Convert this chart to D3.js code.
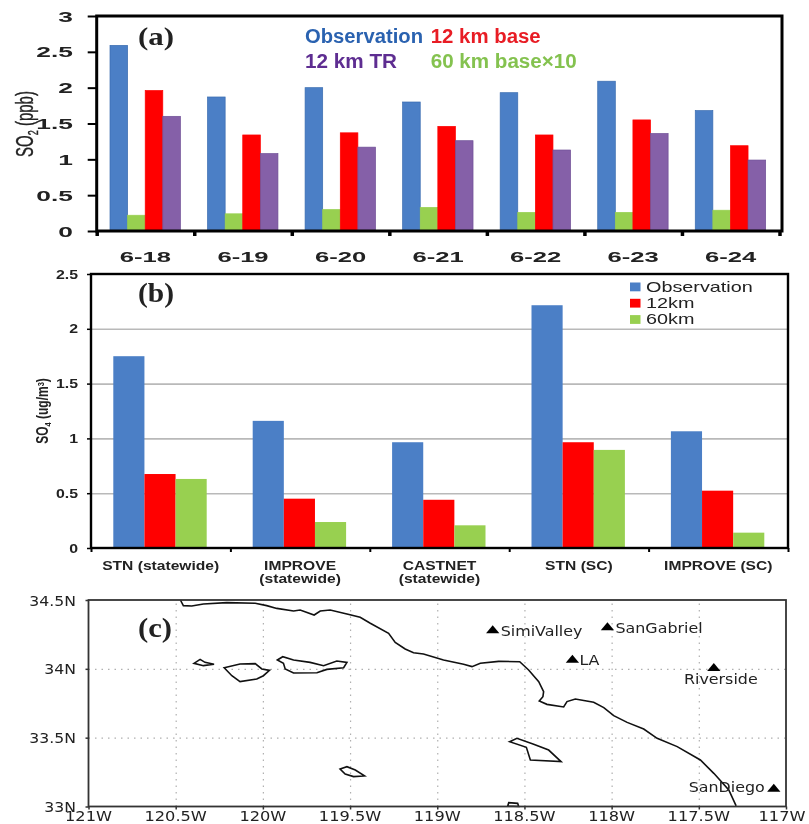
<!DOCTYPE html>
<html><head><meta charset="utf-8">
<script src="https://cdn.jsdelivr.net/npm/d3@7/dist/d3.min.js"></script>
<style>
html,body{margin:0;padding:0;background:#fff;overflow:hidden}
svg{display:block;filter:blur(0.5px)}
</style></head><body>
<svg id="c" width="809" height="824"></svg>
<script>
// ---------- panel (a) ----------
const daysA = ["6-18","6-19","6-20","6-21","6-22","6-23","6-24"];
const seriesA = ["Observation","60 km base×10","12 km base","12 km TR"];
const obsA = [2.59,1.87,2.0,1.80,1.93,2.09,1.68];
const green60A = [0.22,0.24,0.30,0.33,0.26,0.26,0.29];
const red12A = [1.96,1.34,1.37,1.46,1.34,1.55,1.19];
const purpleTRA = [1.60,1.08,1.17,1.26,1.13,1.36,0.99];
const ticksA = [0,0.5,1,1.5,2,2.5,3];
// ---------- panel (b) ----------
const netsB = [["STN (statewide)"],["IMPROVE","(statewide)"],["CASTNET","(statewide)"],["STN (SC)"],["IMPROVE (SC)"]];
const seriesB = ["Observation","12km","60km"];
const obsB = [1.75,1.16,0.965,2.215,1.065];
const km12B = [0.675,0.45,0.44,0.965,0.523];
const km60B = [0.63,0.237,0.207,0.895,0.14];
const ticksB = [0,0.5,1,1.5,2,2.5];
// ---------- panel (c) ----------
const lonTicks = [-121,-120.5,-120,-119.5,-119,-118.5,-118,-117.5,-117];
const latTicks = [33,33.5,34,34.5];
const coast = [[-120.473,34.5],[-120.456,34.459],[-120.408,34.456],[-120.341,34.471],[-120.207,34.481],[-120.044,34.476],[-119.978,34.459],[-119.92,34.439],[-119.824,34.42],[-119.786,34.427],[-119.706,34.391],[-119.671,34.42],[-119.614,34.427],[-119.518,34.398],[-119.442,34.374],[-119.384,34.331],[-119.279,34.258],[-119.241,34.192],[-119.184,34.144],[-119.136,34.117],[-119.079,34.108],[-118.964,34.064],[-118.849,34.033],[-118.801,34.016],[-118.753,34.04],[-118.648,34.054],[-118.527,34.052],[-118.476,33.992],[-118.418,33.907],[-118.39,33.834],[-118.394,33.798],[-118.415,33.766],[-118.371,33.742],[-118.275,33.723],[-118.256,33.762],[-118.208,33.781],[-118.103,33.757],[-118.045,33.718],[-117.988,33.66],[-117.911,33.611],[-117.816,33.563],[-117.739,33.495],[-117.624,33.435],[-117.491,33.338],[-117.414,33.241],[-117.328,33.12],[-117.286,33.004]];
const sanMiguel = [[-120.395,34.04],[-120.36,34.069],[-120.332,34.047],[-120.28,34.033],[-120.341,34.023]];
const santaRosa = [[-120.222,34.008],[-120.131,34.035],[-120.044,34.038],[-120.006,33.999],[-119.962,33.989],[-119.997,33.95],[-120.035,33.926],[-120.131,33.907],[-120.178,33.95]];
const santaCruz = [[-119.917,34.064],[-119.886,34.088],[-119.824,34.064],[-119.729,34.047],[-119.652,34.023],[-119.576,34.057],[-119.518,34.047],[-119.537,34.008],[-119.633,33.996],[-119.69,33.972],[-119.824,33.97],[-119.872,33.999],[-119.882,34.04]];
const santaBarbara = [[-119.557,33.272],[-119.518,33.289],[-119.47,33.265],[-119.417,33.222],[-119.48,33.217],[-119.528,33.236]];
const catalina = [[-118.585,33.471],[-118.543,33.495],[-118.447,33.452],[-118.361,33.41],[-118.29,33.326],[-118.466,33.338],[-118.489,33.43]];
const sanClemente = [[-118.596,33.004],[-118.59,33.028],[-118.539,33.023],[-118.533,33.0]];
const islands = [sanMiguel,santaRosa,santaCruz,santaBarbara,catalina,sanClemente];
const siteNames = ["SimiValley","SanGabriel","LA","Riverside","SanDiego"];
const siteLon = [-118.682,-118.024,-118.225,-117.414,-117.07];
const siteLat = [34.277,34.299,34.064,34.004,33.127];

const C = {blue:"#4b7fc6",red:"#ff0000",green:"#98d050",purple:"#8560a8"};
const svg = d3.select("#c");
const sans = "'Liberation Sans',Arial,sans-serif";
const serif = "'Liberation Serif','Times New Roman',serif";
const gr = "'DejaVu Sans',sans-serif";

function widen(sel,f){ sel.each(function(){ const t=d3.select(this);
  t.attr("textLength",this.getComputedTextLength()*f).attr("lengthAdjust","spacingAndGlyphs"); }); return sel; }
function txt(x,y,s,o){ const e=svg.append("text").attr("x",x).attr("y",y).text(s)
  .attr("font-family",o.ff||sans).attr("font-size",o.fs).attr("font-weight",o.fw||"normal")
  .attr("fill",o.fill||"#111").attr("text-anchor",o.anchor||"start");
  if(o.w) e.call(widen,o.w);
  if(o.len) e.attr("textLength",o.len).attr("lengthAdjust","spacingAndGlyphs");
  return e; }

// ===== (a) =====
{
  const L=96.7,R=779.5,FR=782,T=16,B=231;
  const y=d3.scaleLinear().domain([0,3]).range([B,T]);
  const x=d3.scaleBand().domain(daysA).range([L,R]);
  const sub=d3.scaleBand().domain(seriesA).range([13.3,83.7]);
  const cols=[C.blue,C.green,C.red,C.purple];
  const edges=["#3a6cb0","#98d050","#ff0000","#6f4f96"];
  [obsA,green60A,red12A,purpleTRA].forEach((vals,si)=>{
    svg.append("g").selectAll("rect").data(vals).join("rect")
      .attr("x",(d,i)=>x(daysA[i])+sub(seriesA[si]))
      .attr("width",sub.bandwidth()).attr("y",d=>y(d)).attr("height",d=>B-y(d))
      .attr("fill",cols[si]).attr("stroke",edges[si]).attr("stroke-width",0.7);
  });
  svg.append("rect").attr("x",L).attr("y",T).attr("width",FR-L).attr("height",B-T).attr("fill","none").attr("stroke","#000").attr("stroke-width",3);
  const ya=svg.append("g").attr("transform",`translate(${L},0)`).call(d3.axisLeft(y).tickValues(ticksA).tickSize(9).tickFormat(""));
  ya.select(".domain").remove(); ya.selectAll("line").attr("stroke","#000").attr("stroke-width",2);
  const edge=d3.scaleLinear().domain([0,7]).range([L,R]);
  const xa=svg.append("g").attr("transform",`translate(0,${B})`).call(d3.axisBottom(edge).tickValues(d3.range(0,8)).tickSize(5).tickFormat(""));
  xa.select(".domain").remove(); xa.selectAll("line").attr("stroke","#000").attr("stroke-width",3.5);
  ticksA.forEach(t=>txt(73,y(t)+5.5,String(t),{fs:15.5,fw:"bold",anchor:"end",w:1.7,fill:"#222"}));
  daysA.forEach(d=>txt(x(d)+x.bandwidth()/2,262,d,{fs:15.5,fw:"bold",anchor:"middle",w:1.65,fill:"#222"}));
  const t=svg.append("text").attr("transform",`translate(33,124) scale(1.6,1) rotate(-90)`).attr("text-anchor","middle")
    .attr("font-family",sans).attr("font-size",15).attr("fill","#222").attr("stroke","#222").attr("stroke-width",0.25);
  t.append("tspan").text("SO");
  t.append("tspan").text("2").attr("font-size",9).attr("dy",3);
  t.append("tspan").text(" (ppb)").attr("dy",-3);
  txt(138,45,"(a)",{ff:serif,fs:26,fw:"bold",len:36,fill:"#222"});
  txt(305,43,seriesA[0],{fs:20,fw:"bold",fill:"#2a62b0",len:118});
  txt(430.7,43,seriesA[2],{fs:20,fw:"bold",fill:"#e81c24",len:110});
  txt(305,68,seriesA[3],{fs:20,fw:"bold",fill:"#5e2d91",len:92});
  txt(430.7,68,seriesA[1],{fs:20,fw:"bold",fill:"#84c24f",len:146});
}

// ===== (b) =====
{
  const L=91,R=788,T=274,B=548;
  const y=d3.scaleLinear().domain([0,2.5]).range([B,T]);
  const x=d3.scaleBand().domain(netsB.map(d=>d[0])).range([L,R]);
  const sub=d3.scaleBand().domain(seriesB).range([22.3,115.7]);
  const g=svg.append("g").attr("transform",`translate(${L},0)`).call(d3.axisLeft(y).tickValues(ticksB.slice(1,5)).tickSize(-(R-L)).tickFormat(""));
  g.select(".domain").remove(); g.selectAll("line").attr("stroke","#b9b9b9").attr("stroke-width",1.6);
  const cols=[C.blue,C.red,C.green];
  [obsB,km12B,km60B].forEach((vals,si)=>{
    svg.append("g").selectAll("rect").data(vals).join("rect")
      .attr("x",(d,i)=>x(netsB[i][0])+sub(seriesB[si]))
      .attr("width",sub.bandwidth()).attr("y",d=>y(d)).attr("height",d=>B-y(d)).attr("fill",cols[si]);
  });
  svg.append("rect").attr("x",L).attr("y",T).attr("width",R-L).attr("height",B-T).attr("fill","none").attr("stroke","#000").attr("stroke-width",2.4);
  const yt=svg.append("g").attr("transform",`translate(${L},0)`).call(d3.axisLeft(y).tickValues(ticksB).tickSize(4).tickFormat(""));
  yt.select(".domain").remove(); yt.selectAll("line").attr("stroke","#000").attr("stroke-width",1.5);
  const edge=d3.scaleLinear().domain([0,5]).range([L,R]);
  const xa=svg.append("g").attr("transform",`translate(0,${B})`).call(d3.axisBottom(edge).tickValues(d3.range(0,6)).tickSize(4).tickFormat(""));
  xa.select(".domain").remove(); xa.selectAll("line").attr("stroke","#000").attr("stroke-width",2);
  ticksB.forEach(t=>txt(78,y(t)+4.5,String(t),{fs:12.5,fw:"bold",anchor:"end",w:1.27,fill:"#222"}));
  netsB.forEach(n=>n.forEach((line,i)=>txt(x(n[0])+x.bandwidth()/2,570+i*13.2,line,{fs:12,fw:"bold",anchor:"middle",w:1.3,fill:"#222"})));
  const t=svg.append("text").attr("transform",`translate(48,411) scale(1.3,1) rotate(-90)`).attr("text-anchor","middle")
    .attr("font-family",sans).attr("font-weight","bold").attr("font-size",12).attr("fill","#222");
  t.append("tspan").text("SO");
  t.append("tspan").text("4").attr("font-size",7.5).attr("dy",2);
  t.append("tspan").text(" (ug/m").attr("dy",-2);
  t.append("tspan").text("3").attr("font-size",7.5).attr("dy",-3);
  t.append("tspan").text(")").attr("dy",3);
  txt(138,302,"(b)",{ff:serif,fs:27,fw:"bold",len:36,fill:"#222"});
  seriesB.forEach((s,i)=>{
    svg.append("rect").attr("x",630).attr("y",282.5+i*16.3).attr("width",10.5).attr("height",8.8).attr("fill",cols[i]);
    txt(646,292.3+i*16,s,{fs:15,w:1.32,fill:"#222"});
  });
}

// ===== (c) =====
{
  const L=88.5,R=786,T=600,B=806.5;
  const lon=d3.scaleLinear().domain([-121,-117]).range([L,R]);
  const lat=d3.scaleLinear().domain([33,34.5]).range([B,T]);
  const gx=svg.append("g").attr("transform",`translate(0,${B})`).call(d3.axisBottom(lon).tickValues(lonTicks.slice(1,-1)).tickSize(-(B-T)).tickFormat(""));
  gx.select(".domain").remove(); gx.selectAll("line").attr("stroke","#b0b0b0").attr("stroke-width",1.2).attr("stroke-dasharray","1.5 5");
  const gy=svg.append("g").attr("transform",`translate(${L},0)`).call(d3.axisLeft(lat).tickValues(latTicks.slice(1,-1)).tickSize(-(R-L)).tickFormat(""));
  gy.select(".domain").remove(); gy.selectAll("line").attr("stroke","#b0b0b0").attr("stroke-width",1.2).attr("stroke-dasharray","1.5 5");
  const line=d3.line().x(d=>lon(d[0])).y(d=>lat(d[1])).curve(d3.curveLinear);
  svg.append("path").attr("d",line(coast)).attr("fill","none").attr("stroke","#111").attr("stroke-width",1.6);
  islands.forEach(p=>svg.append("path").attr("d",line(p)+"Z").attr("fill","none").attr("stroke","#111").attr("stroke-width",1.6));
  svg.append("rect").attr("x",L).attr("y",T).attr("width",R-L).attr("height",B-T).attr("fill","none").attr("stroke","#333").attr("stroke-width",1.8);
  const ticksL=svg.append("g").attr("transform",`translate(${L},0)`).call(d3.axisLeft(lat).tickValues(latTicks).tickSize(3).tickFormat(""));
  ticksL.select(".domain").remove(); ticksL.selectAll("line").attr("stroke","#333").attr("stroke-width",1.5);
  const ticksB2=svg.append("g").attr("transform",`translate(0,${B})`).call(d3.axisBottom(lon).tickValues(lonTicks).tickSize(3).tickFormat(""));
  ticksB2.select(".domain").remove(); ticksB2.selectAll("line").attr("stroke","#333").attr("stroke-width",1.5);
  latTicks.forEach(v=>txt(76,lat(v)+5.5,(v%1?v.toFixed(1):v)+"N",{ff:gr,fs:14,w:1.12,anchor:"end",fill:"#222"}));
  lonTicks.forEach((v,i)=>txt(lon(v)-(i==lonTicks.length-1?4:0),820.5,(Math.abs(v)%1?Math.abs(v).toFixed(1):Math.abs(v))+"W",{ff:gr,fs:13.5,w:1.2,anchor:"middle",fill:"#222"}));
  txt(138,637,"(c)",{ff:serif,fs:27,fw:"bold",len:34,fill:"#222"});
  const sym=d3.symbol().type(d3.symbolTriangle).size(58);
  siteNames.forEach((n,i)=>svg.append("path").attr("d",sym()).attr("fill","#000")
    .attr("transform",`translate(${lon(siteLon[i])},${lat(siteLat[i])}) scale(1.15,0.8)`));
  const lab=[{dx:8,dy:5,a:"start"},{dx:8,dy:5,a:"start"},{dx:7,dy:5,a:"start"},{dx:7,dy:16,a:"middle"},{dx:-9,dy:3,a:"end"}];
  siteNames.forEach((n,i)=>txt(lon(siteLon[i])+lab[i].dx,lat(siteLat[i])+lab[i].dy,n,{ff:gr,fs:14,w:1.135,anchor:lab[i].a,fill:"#222"}));
}
</script></body></html>
